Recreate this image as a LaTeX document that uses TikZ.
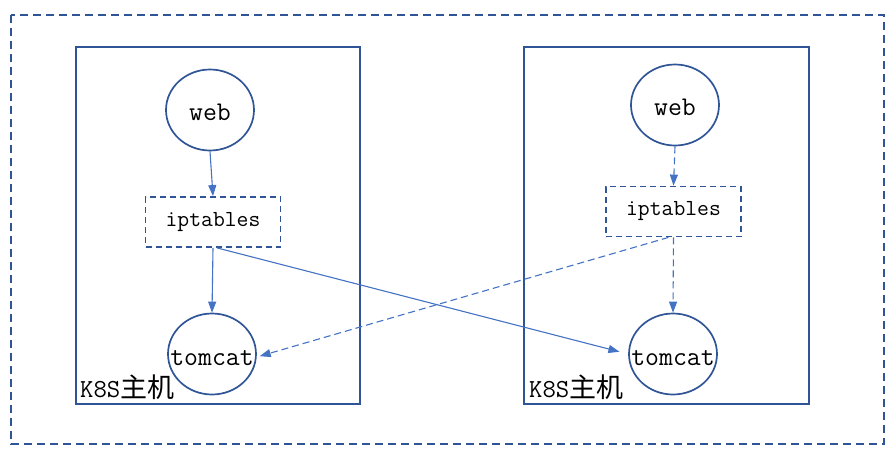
\documentclass[tikz,border=0pt]{standalone}
\usepackage{fontspec}
\newfontfamily\cjk{Noto Sans CJK SC}
\usetikzlibrary{shapes.geometric,arrows.meta}
\definecolor{boxblue}{HTML}{2F5597}
\definecolor{arrblue}{HTML}{4472C4}
\tikzset{
  hostbox/.style={draw=boxblue,line width=1.7pt},
  outerbox/.style={draw=boxblue,line width=1.7pt,dash pattern=on 8pt off 5pt},
  svc/.style={ellipse,draw=boxblue,line width=1.7pt,inner sep=0pt,minimum width=88pt,minimum height=81pt},
  svctxt/.style={inner sep=0pt,font=\fontsize{27}{30}\selectfont\ttfamily},
  ipt/.style={rectangle,draw=boxblue,line width=1.8pt,dash pattern=on 6pt off 4pt,minimum width=135pt,minimum height=50pt,inner sep=0pt,font=\fontsize{23}{26}\selectfont\ttfamily},
  lbl/.style={anchor=west,inner sep=0pt,font=\fontsize{26}{29}\selectfont\ttfamily},
  conn/.style={draw=arrblue,line width=1.1pt,-{Triangle[length=11pt,width=8pt]}},
  dconn/.style={conn,dash pattern=on 7pt off 4pt}
}
\begin{document}
\begin{tikzpicture}[x=1pt,y=-1pt]
\useasboundingbox (0,0) rectangle (895,459);
\draw[outerbox] (11,15) rectangle (884,444);
\node[hostbox,rectangle,minimum width=284pt,minimum height=357pt,inner sep=0pt] (lhost) at (218,225.5) {};
\node[hostbox,rectangle,minimum width=285pt,minimum height=357pt,inner sep=0pt] (rhost) at (666.5,225.5) {};
\node[svc] (lweb) at (210,110) {};
\node[svctxt] (lwebt) at (210,112) {web};
\node[ipt] (lipt) at (213,222) {iptables};
\node[svc] (ltom) at (212,354) {};
\node[svctxt] (ltomt) at (212,358) {tomcat};
\node[svc] (rweb) at (675,105) {};
\node[svctxt] (rwebt) at (675,107) {web};
\node[ipt] (ript) at (673.5,211.5) {iptables};
\node[svc] (rtom) at (673,354) {};
\node[svctxt] (rtomt) at (673,358) {tomcat};
\node[lbl] (llbl) at (80,387) {K8S{\cjk\fontsize{27}{30}\selectfont 主机}};
\node[lbl] (rlbl) at (529,387) {K8S{\cjk\fontsize{27}{30}\selectfont 主机}};
\draw[conn] (lweb.south) -- (lipt.north);
\draw[conn] (lipt.south) -- (ltom.north);
\draw[conn,shorten >=9pt] ([xshift=4pt]lipt.south) -- (rtom.west);
\draw[dconn] (rweb.south) -- (ript.north);
\draw[dconn] (ript.south) -- (rtom.north);
\draw[dconn,shorten >=3pt] ([xshift=-5pt]ript.south) -- ([yshift=-3pt]ltom.east);
\end{tikzpicture}
\end{document}
